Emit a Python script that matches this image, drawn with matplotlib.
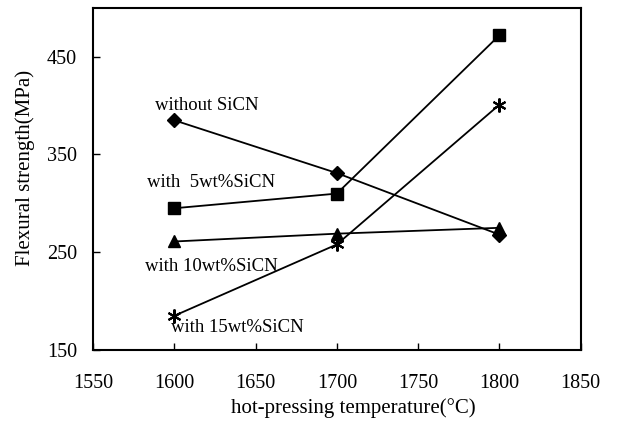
import matplotlib
matplotlib.use("Agg")
import matplotlib.pyplot as plt

plt.rcParams['font.family'] = ['Liberation Serif', 'DejaVu Serif']

temps = [1600, 1700, 1800]
without_sicn = [385, 331, 268]
with_5 = [295, 310, 472]
with_10 = [261, 269, 275]
with_15 = [185, 258, 401]

labels = ["without SiCN", "with  5wt%SiCN", "with 10wt%SiCN", "with 15wt%SiCN"]
label_pos = [(1588, 400), (1583, 321), (1582, 235), (1598, 173)]

xticks = [1550, 1600, 1650, 1700, 1750, 1800, 1850]
yticks = [150, 250, 350, 450]

fig = plt.figure(figsize=(6.41, 4.24), dpi=100)
ax = fig.add_axes([0.145, 0.1745, 0.761, 0.807])

ax.plot(temps, without_sicn, color='black', lw=1.3, marker='D', ms=7)
ax.plot(temps, with_5, color='black', lw=1.3, marker='s', ms=8.5)
ax.plot(temps, with_10, color='black', lw=1.3, marker='^', ms=9)
ax.plot(temps, with_15, color='black', lw=1.3, marker=(6, 2, 0), ms=10, mew=1.5)

for txt, (x, y) in zip(labels, label_pos):
    ax.text(x, y, txt, fontsize=13.5, va='center', ha='left')

ax.set_xlim(1550, 1850)
ax.set_ylim(150, 500)
ax.set_xticks(xticks)
ax.set_yticks(yticks)
ax.tick_params(direction='in', labelsize=14.5, length=5, width=1)
ax.tick_params(axis='x', pad=17)
ax.tick_params(axis='y', pad=11.5)
for s in ax.spines.values():
    s.set_linewidth(1.5)

ax.set_xlabel("hot-pressing temperature(°C)", fontsize=15)
ax.set_ylabel("Flexural strength(MPa)", fontsize=15)
ax.xaxis.set_label_coords(0.533, -0.17)
ax.yaxis.set_label_coords(-0.139, 0.531)
ax.xaxis.label.set_va('center')
ax.yaxis.label.set_va('center')

fig.savefig("out.png", dpi=100)
